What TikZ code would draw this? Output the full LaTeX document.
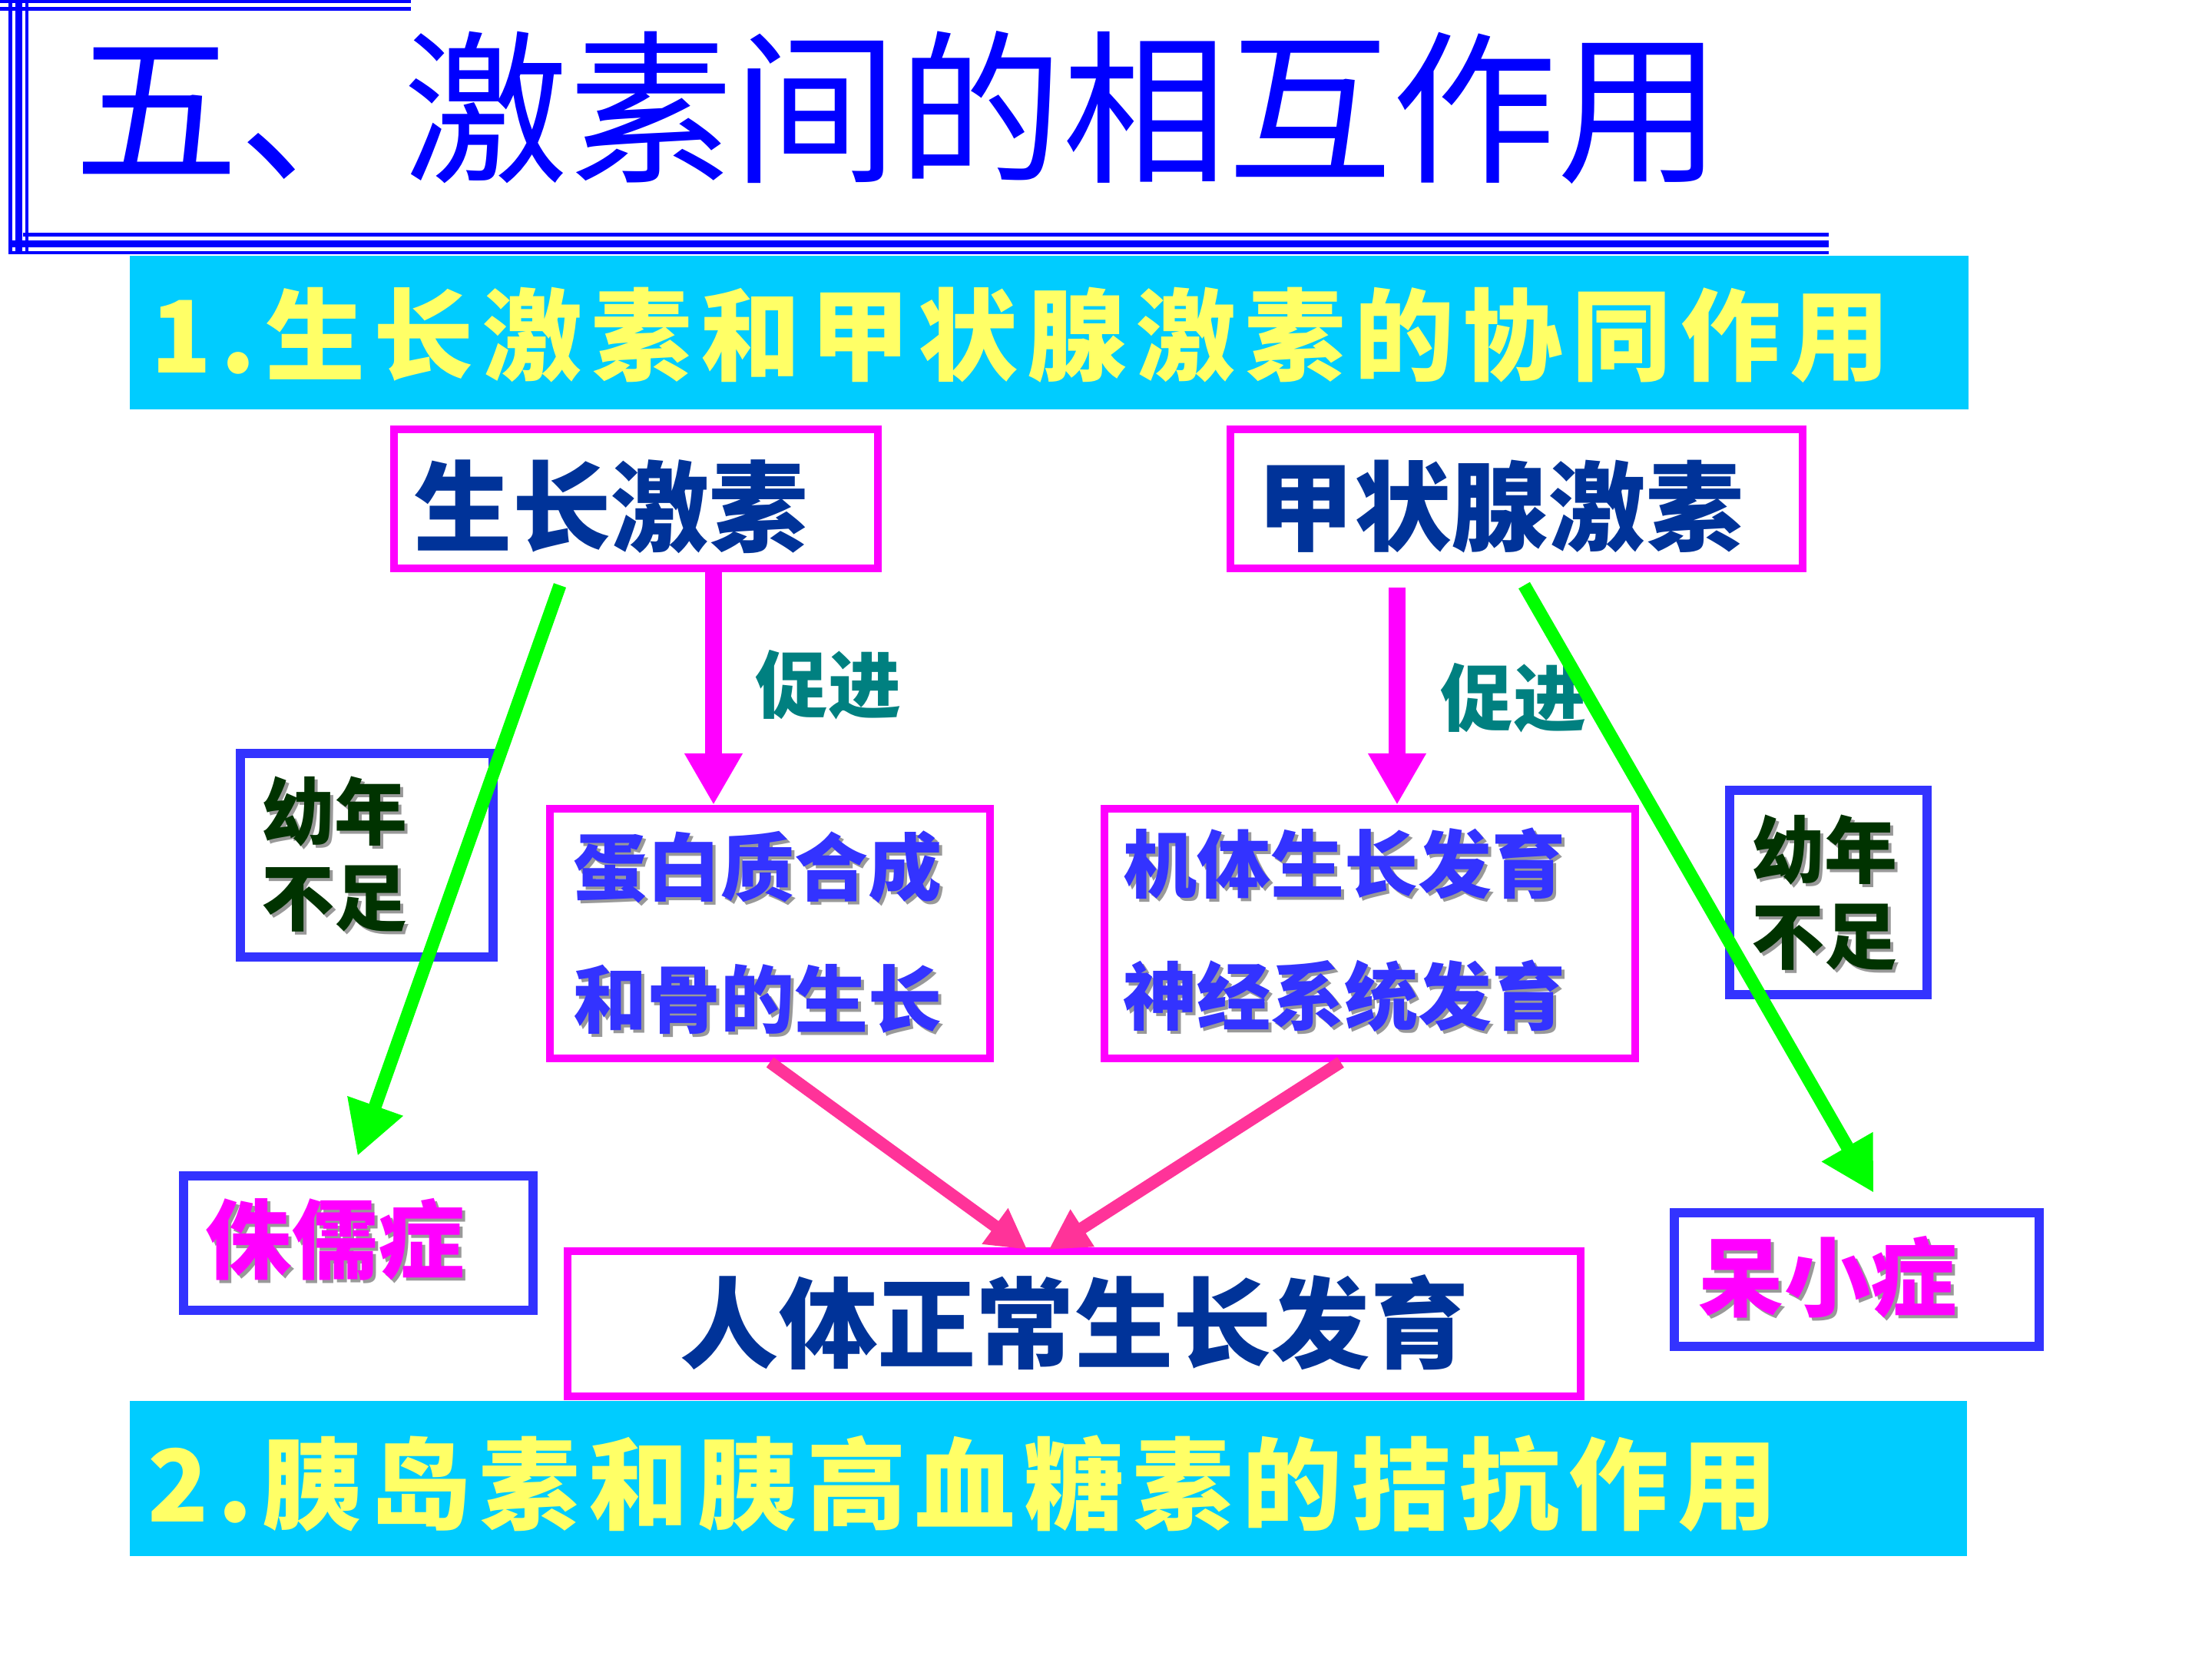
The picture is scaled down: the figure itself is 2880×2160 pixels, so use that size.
\documentclass[tikz,border=0pt]{standalone}
\usepackage{fontspec}
\usetikzlibrary{arrows.meta,calc}
\newfontfamily\cjk{Noto Sans CJK SC}
\newfontfamily\cjkband{Noto Sans CJK SC}[LetterSpace=9]
\definecolor{tblue}{HTML}{0000FF}
\definecolor{bandcyan}{HTML}{00CCFF}
\definecolor{bandyellow}{HTML}{FFFF66}
\definecolor{mag}{HTML}{FF00FF}
\definecolor{dblue}{HTML}{003399}
\definecolor{tealtxt}{HTML}{008080}
\definecolor{mblue}{HTML}{3333FF}
\definecolor{dgreen}{HTML}{003300}
\definecolor{lgreen}{HTML}{00FF00}
\definecolor{pinkarr}{HTML}{FF3399}
\definecolor{shgray}{HTML}{999999}
\newcommand\shtxt[2]{\leavevmode\rlap{\kern0.04cm\raisebox{-0.04cm}{\color{shgray}#2}}{\color{#1}#2}}
\tikzset{
  magbox/.style={draw=mag, line width=0.1cm, inner sep=0, rectangle},
  bluebox/.style={draw=mblue, line width=0.12cm, inner sep=0, rectangle},
  txt/.style={anchor=west, inner sep=0, align=left},
  magarrow/.style={draw=mag, line width=0.22cm, -{Triangle[length=0.67cm,width=0.71cm]}},
  pinkarrow/.style={draw=pinkarr, line width=0.16cm, -{Triangle[length=0.52cm,width=0.54cm]}},
  greenarrow/.style={draw=lgreen, line width=0.17cm, -{Triangle[length=0.69cm,width=0.72cm]}},
  frameline/.style={draw=tblue}
}
\begin{document}
\begin{tikzpicture}[x=0.01cm, y=-0.01cm]
\useasboundingbox (0,0) rectangle (2880,2160);
\fill[white] (0,0) rectangle (2880,2160);
% title frame
\draw[frameline, line width=0.04cm] (0,2) -- (535,2);
\draw[frameline, line width=0.05cm] (0,11.5) -- (535,11.5);
\draw[frameline, line width=0.05cm] (13.5,0) -- (13.5,331);
\draw[frameline, line width=0.09cm] (24.5,0) -- (24.5,331);
\draw[frameline, line width=0.04cm] (35,0) -- (35,331);
\draw[frameline, line width=0.05cm] (30,305) -- (2381,305);
\draw[frameline, line width=0.09cm] (11,317.5) -- (2381,317.5);
\draw[frameline, line width=0.04cm] (11,329) -- (2381,329);
\node[txt, text=tblue, font=\cjk\fontsize{61pt}{64pt}\selectfont] (title) at (96,140) {五、激素间的相互作用};
% bands
\fill[bandcyan] (169,333) rectangle (2563,533);
\fill[bandcyan] (169,1824) rectangle (2561,2026);
\node[txt, text=bandyellow, font=\cjkband\bfseries\fontsize{37pt}{40pt}\selectfont] (band1) at (196,436) {1.生长激素和甲状腺激素的协同作用};
\node[txt, text=bandyellow, font=\cjkband\bfseries\fontsize{37pt}{40pt}\selectfont] (band2) at (192,1932) {2.胰岛素和胰高血糖素的拮抗作用};
% boxes
\node[magbox, minimum width=6.3cm, minimum height=1.81cm] (gh) at (828,649.5) {};
\node[magbox, minimum width=7.45cm, minimum height=1.81cm] (th) at (1974.5,649.5) {};
\node[magbox, minimum width=5.73cm, minimum height=3.25cm] (prot) at (1002.5,1215.5) {};
\node[magbox, minimum width=6.91cm, minimum height=3.25cm] (body) at (1783.5,1215.5) {};
\node[magbox, minimum width=13.19cm, minimum height=1.89cm] (norm) at (1398.5,1723.5) {};
\node[bluebox, minimum width=3.29cm, minimum height=2.65cm] (insL) at (477.5,1113.5) {};
\node[bluebox, minimum width=2.57cm, minimum height=2.66cm] (insR) at (2380.5,1162) {};
\node[bluebox, minimum width=4.55cm, minimum height=1.75cm] (dwarf) at (466.5,1618.5) {};
\node[bluebox, minimum width=4.75cm, minimum height=1.74cm] (cret) at (2417.5,1666) {};
% texts
\node[txt, text=dblue, font=\cjk\bfseries\fontsize{36.5pt}{40pt}\selectfont] (ghT) at (538,660) {生长激素};
\node[txt, text=dblue, font=\cjk\bfseries\fontsize{36pt}{40pt}\selectfont] (thT) at (1636,660) {甲状腺激素};
\node[txt, text=dblue, font=\cjk\bfseries\fontsize{36.5pt}{40pt}\selectfont] (normT) at (885,1722) {人体正常生长发育};
\node[anchor=center, inner sep=0, text=tealtxt, font=\cjk\bfseries\fontsize{27pt}{30pt}\selectfont] (pjL) at (1078,892) {促进};
\node[anchor=center, inner sep=0, text=tealtxt, font=\cjk\bfseries\fontsize{27pt}{30pt}\selectfont] (pjR) at (1970,909) {促进};
\node[txt, font=\cjk\bfseries\fontsize{27.3pt}{48.9pt}\selectfont] (protT) at (746,1216) {\shtxt{mblue}{蛋白质合成}\\\shtxt{mblue}{和骨的生长}};
\node[txt, font=\cjk\bfseries\fontsize{27.3pt}{48.9pt}\selectfont] (bodyT) at (1462,1213) {\shtxt{mblue}{机体生长发育}\\\shtxt{mblue}{神经系统发育}};
\node[txt, font=\cjk\bfseries\fontsize{27pt}{31.9pt}\selectfont] (insLT) at (340,1114) {\shtxt{dgreen}{幼年}\\\shtxt{dgreen}{不足}};
\node[txt, font=\cjk\bfseries\fontsize{27pt}{31.9pt}\selectfont] (insRT) at (2280,1164) {\shtxt{dgreen}{幼年}\\\shtxt{dgreen}{不足}};
\node[txt, font=\cjk\bfseries\fontsize{32pt}{36pt}\selectfont] (dwarfT) at (267,1616) {\shtxt{mag}{侏儒症}};
\node[txt, font=\cjk\bfseries\fontsize{32pt}{36pt}\selectfont] (cretT) at (2210,1665) {\shtxt{mag}{呆小症}};
% connector end points
\coordinate (gA) at ($(gh.south)+(101,0)$);
\coordinate (tA) at ($(th.south)+(-155.5,20)$);
\coordinate (pL) at ($(norm.north)+(-61,3)$);
\coordinate (pR) at ($(norm.north)+(-33,3)$);
\coordinate (bS) at ($(body.south)+(-38,0)$);
\coordinate (gLs) at ($(gh.south)+(-99,17)$);
\coordinate (gLe) at ($(dwarf.north)+(-1,-20)$);
\coordinate (gRs) at ($(th.south)+(10,17)$);
\coordinate (gRe) at ($(cret.north)+(22,-20)$);
% connectors
\draw[pinkarrow] (prot.south) -- (pL);
\draw[pinkarrow] (bS) -- (pR);
\draw[magarrow] (gA) -- (gA |- prot.north);
\draw[magarrow] (tA) -- (tA |- body.north);
\draw[greenarrow] (gLs) -- (gLe);
\draw[greenarrow] (gRs) -- (gRe);
\end{tikzpicture}
\end{document}
